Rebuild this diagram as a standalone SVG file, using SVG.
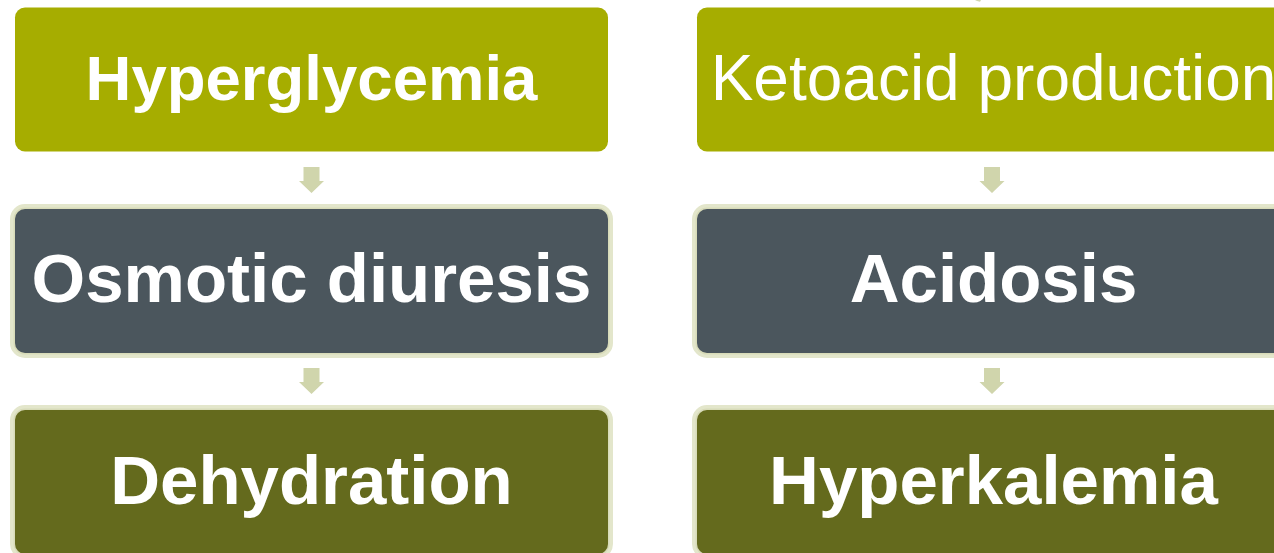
<svg xmlns="http://www.w3.org/2000/svg" width="1274" height="553" viewBox="0 0 1274 553">
  <defs>
    <style>
      .t { font-family: "Liberation Sans", Arial, sans-serif; fill: #ffffff; text-anchor: middle; }
      .b { font-weight: bold; font-size: 69px; }
      .r1b { font-weight: bold; font-size: 63.5px; }
      .r1 { font-weight: normal; font-size: 64px; }
      .lvl1 { fill: #A6AD00; }
      .lvl2 { fill: #4B565D; }
      .lvl3 { fill: #646A1D; }
      .halo { fill: none; stroke: #E3E6CB; stroke-width: 10; }
      .halo2 { fill: none; stroke: #D8DBB9; stroke-width: 3; }
      .arrow { fill: #D0D5AC; }
    </style>
  </defs>
  <rect width="1274" height="553" fill="#ffffff"/>

  <g id="connectors">
    <polygon class="arrow" points="975,0 981,0 980,1.8 977,1"/>
    <polygon class="arrow" points="303.5,167 319.5,167 319.5,181 324,181 311.5,193 299,181 303.5,181"/>
    <polygon class="arrow" points="303.5,368 319.5,368 319.5,382 324,382 311.5,394 299,382 303.5,382"/>
    <polygon class="arrow" points="984,167 1000,167 1000,181 1004.5,181 992,193 979.5,181 984,181"/>
    <polygon class="arrow" points="984,368 1000,368 1000,382 1004.5,382 992,394 979.5,382 984,382"/>
  </g>

  <g id="hyperglycemia">
    <rect class="lvl1" x="15" y="7.5" width="593" height="144" rx="10"/>
    <text class="t r1b" x="311.5" y="99.5">Hyperglycemia</text>
  </g>
  <g id="ketoacid">
    <rect class="lvl1" x="697" y="7.5" width="593" height="144" rx="10"/>
    <text class="t r1" x="993.5" y="99.5">Ketoacid production</text>
  </g>
  <g id="osmotic">
    <rect class="halo" x="15" y="209" width="593" height="144" rx="10"/>
    <rect class="halo2" x="15" y="209" width="593" height="144" rx="10"/>
    <rect class="lvl2" x="15" y="209" width="593" height="144" rx="10"/>
    <text class="t b" x="311.5" y="302">Osmotic diuresis</text>
  </g>
  <g id="acidosis">
    <rect class="halo" x="697" y="209" width="593" height="144" rx="10"/>
    <rect class="halo2" x="697" y="209" width="593" height="144" rx="10"/>
    <rect class="lvl2" x="697" y="209" width="593" height="144" rx="10"/>
    <text class="t b" x="993.5" y="302">Acidosis</text>
  </g>
  <g id="dehydration">
    <rect class="halo" x="15" y="410" width="593" height="144" rx="10"/>
    <rect class="halo2" x="15" y="410" width="593" height="144" rx="10"/>
    <rect class="lvl3" x="15" y="410" width="593" height="144" rx="10"/>
    <text class="t b" x="311.5" y="504">Dehydration</text>
  </g>
  <g id="hyperkalemia">
    <rect class="halo" x="697" y="410" width="593" height="144" rx="10"/>
    <rect class="halo2" x="697" y="410" width="593" height="144" rx="10"/>
    <rect class="lvl3" x="697" y="410" width="593" height="144" rx="10"/>
    <text class="t b" x="993.5" y="504">Hyperkalemia</text>
  </g>
</svg>
